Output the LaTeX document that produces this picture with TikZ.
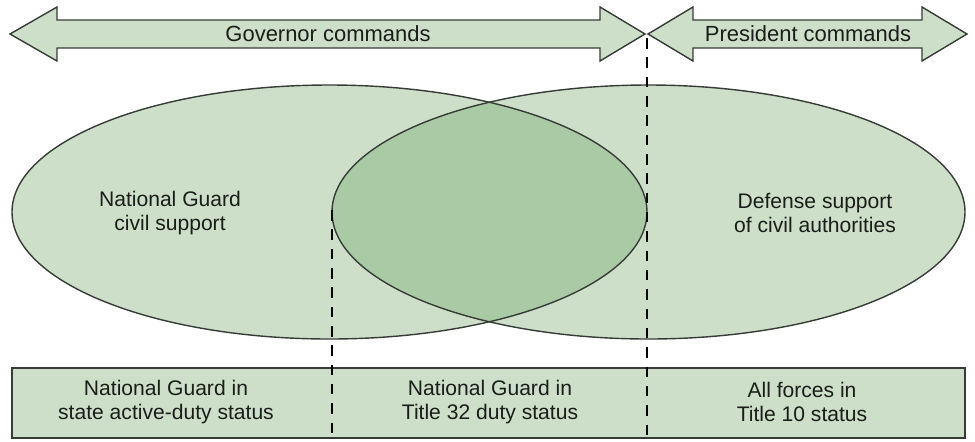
\documentclass[tikz,border=0pt]{standalone}
\usepackage{fontspec}
\setmainfont{Liberation Sans}
\definecolor{lightgreen}{RGB}{205,223,201}
\definecolor{darkgreen}{RGB}{170,202,166}
\definecolor{edgegray}{RGB}{55,60,55}
\definecolor{textgray}{RGB}{25,30,25}
\tikzset{
  label/.style={align=center, text=textgray, font=\fontsize{12}{13.5}\selectfont},
  bigarrow/.style={draw=edgegray, fill=lightgreen, line width=0.8pt, line join=miter},
  divider/.style={draw=black, line width=1.6pt, dash pattern=on 6pt off 5pt}
}
\begin{document}
\begin{tikzpicture}[x=0.02cm, y=-0.02cm]
\useasboundingbox (0,0) rectangle (975,441);

\path[bigarrow] (10,34) -- (57,7) -- (57,20) -- (600,20) -- (600,7) -- (645,34)
  -- (600,61) -- (600,48) -- (57,48) -- (57,61) -- cycle;
\path[bigarrow] (648,34) -- (693,7) -- (693,20) -- (922,20) -- (922,7) -- (967,34)
  -- (922,61) -- (922,48) -- (693,48) -- (693,61) -- cycle;
\node[label, font=\fontsize{12.5}{14}\selectfont] (gov) at (328,34) {Governor commands};
\node[label, font=\fontsize{12.5}{14}\selectfont] (pres) at (808,34) {President commands};

\fill[lightgreen] (329.5,212) ellipse [x radius=317.5, y radius=127];
\fill[lightgreen] (648.5,212) ellipse [x radius=316.5, y radius=127];
\begin{scope}
  \clip (329.5,212) ellipse [x radius=317.5, y radius=127];
  \fill[darkgreen] (648.5,212) ellipse [x radius=316.5, y radius=127];
\end{scope}
\draw[edgegray, line width=0.8pt] (329.5,212) ellipse [x radius=317.5, y radius=127];
\draw[edgegray, line width=0.8pt] (648.5,212) ellipse [x radius=316.5, y radius=127];

\node[label] (ngcs) at (170,213) {National Guard\\civil support};
\node[label] (dsca) at (815,213) {Defense support\\of civil authorities};

\path[draw=edgegray, fill=lightgreen, line width=0.8pt] (12,368) rectangle (965,438);
\node[label] (state) at (166,402) {National Guard in\\state active-duty status};
\node[label] (t32) at (490,402) {National Guard in\\Title 32 duty status};
\node[label] (t10) at (802,402) {All forces in\\Title 10 status};

\coordinate (splitA) at (647,38);
\coordinate (splitB) at (332,210);
\path[divider] (splitA) -- (splitA |- 0,441);
\path[divider] (splitB) -- (splitB |- 0,441);
\end{tikzpicture}
\end{document}
